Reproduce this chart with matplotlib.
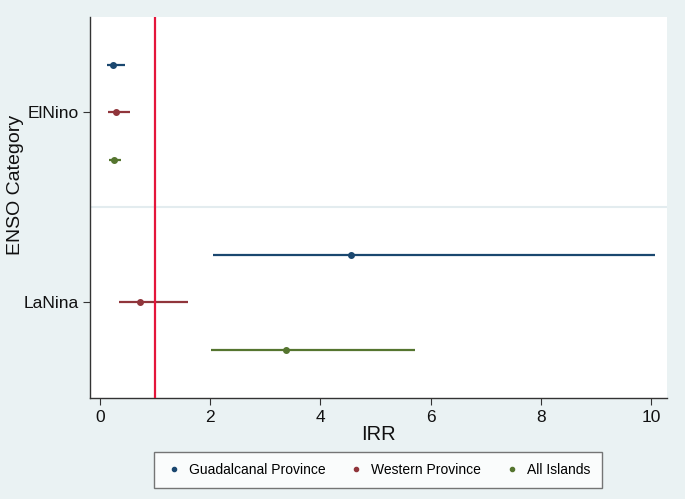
import matplotlib
matplotlib.use("Agg")
import matplotlib.pyplot as plt
from matplotlib.lines import Line2D

plt.rcParams['font.family'] = ['Liberation Sans', 'DejaVu Sans']

categories = ["LaNina", "ElNino"]
series = ["Guadalcanal Province", "Western Province", "All Islands"]
colors = ["#1a476f", "#90353b", "#55752f"]
offsets = [0.25, 0.0, -0.25]

# IRR estimates and CI per series, ordered as categories (LaNina, ElNino)
irr_guad = [4.55, 0.24]
lo_guad = [2.05, 0.13]
hi_guad = [10.07, 0.45]

irr_west = [0.73, 0.29]
lo_west = [0.35, 0.15]
hi_west = [1.60, 0.55]

irr_all = [3.38, 0.25]
lo_all = [2.02, 0.16]
hi_all = [5.71, 0.38]

irrs = [irr_guad, irr_west, irr_all]
los = [lo_guad, lo_west, lo_all]
his = [hi_guad, hi_west, hi_all]

xticks = [0, 2, 4, 6, 8, 10]
ref_line = 1

bg = "#eaf2f3"
fig = plt.figure(figsize=(6.85, 4.99), dpi=100, facecolor=bg)
ax = fig.add_axes([90/685, 1-398/499, (667-90)/685, (398-17)/499])
ax.set_facecolor("white")

ax.axhline(0.5, color="#e3ecef", lw=1.5, zorder=1)

for s, c, off, v, lo, hi in zip(series, colors, offsets, irrs, los, his):
    for i in range(len(categories)):
        y = i + off
        ax.plot([lo[i], hi[i]], [y, y], color=c, lw=1.6, solid_capstyle='butt', zorder=3)
        ax.plot(v[i], y, 'o', color=c, ms=4, zorder=4)

ax.axvline(ref_line, color="#e4153b", lw=1.6, zorder=5)

ax.set_xlim(-0.18, 10.29)
ax.set_ylim(-0.505, 1.5)
ax.set_xticks(xticks)
ax.set_xticklabels([str(t) for t in xticks], fontsize=12.5)
ax.set_yticks(range(len(categories)))
ax.set_yticklabels(categories, fontsize=12.5)
ax.tick_params(axis='both', direction='out', length=5, width=0.8, colors="#333333", labelcolor="#111111")
ax.tick_params(axis='x', pad=4)
ax.tick_params(axis='y', pad=3)
for sp in ["top", "right"]:
    ax.spines[sp].set_visible(False)
for sp in ["left", "bottom"]:
    ax.spines[sp].set_color("#333333")
    ax.spines[sp].set_linewidth(1.0)

ax.set_xlabel("IRR", fontsize=14.5, labelpad=0, color="#111111")
ax.set_ylabel("ENSO Category", fontsize=14, color="#111111")
ax.yaxis.set_label_coords(-0.115, 0.56)

handles = [Line2D([], [], marker='o', ls='none', color=c, ms=3) for c in colors]
leg = fig.legend(handles, series, loc='center', bbox_to_anchor=(378/685, 1-470/499),
                 ncol=3, fontsize=10, frameon=True, fancybox=False, edgecolor="#555555",
                 handletextpad=0.5, columnspacing=1.6, borderpad=0.8, handlelength=1.2)
leg.get_frame().set_linewidth(1.0)
leg.get_frame().set_facecolor("white")

fig.savefig("out.png", dpi=100, facecolor=bg)
